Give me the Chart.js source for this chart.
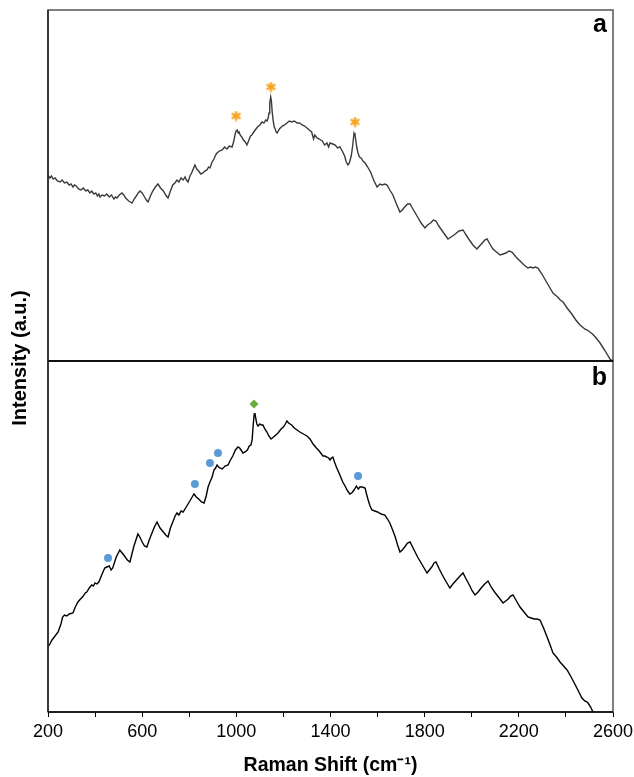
<!DOCTYPE html>
<html>
<head>
<meta charset="utf-8">
<script src="https://cdn.jsdelivr.net/npm/chart.js@4.4.1/dist/chart.umd.min.js"></script>
<style>
  html, body { margin: 0; padding: 0; background: #fff; }
  #wrap { position: relative; width: 634px; height: 777px; }
  canvas { display: block; }
</style>
</head>
<body>
<div id="wrap"><canvas id="c" width="634" height="777"></canvas></div>
<script>
// Panel a spectrum (Raman shift, cm-1) and intensity (a.u.)
const shiftA = [200,208,215,222,230,240,251,260,270,280,290,298,306,313,320,330,340,350,360,369,378,386,395,403,410,416,421,430,440,450,460,470,480,487,493,503,514,522,530,543,557,566,575,583,591,600,610,618,625,635,645,656,667,678,690,700,710,720,730,739,748,756,765,774,782,788,795,803,810,817,824,832,840,849,858,866,875,882,888,897,905,912,918,928,940,950,960,970,982,987,991,995,999,1004,1008,1012,1016,1023,1030,1038,1045,1052,1060,1066,1071,1080,1090,1100,1109,1117,1125,1130,1135,1139,1142,1146,1149,1152,1156,1161,1165,1169,1173,1183,1195,1205,1215,1225,1235,1246,1258,1268,1280,1290,1300,1310,1320,1328,1333,1343,1352,1365,1375,1385,1392,1398,1410,1420,1430,1440,1450,1460,1467,1474,1480,1488,1494,1500,1504,1508,1512,1517,1523,1530,1538,1547,1558,1570,1585,1598,1610,1620,1630,1640,1652,1665,1680,1695,1705,1715,1727,1738,1750,1770,1785,1801,1812,1825,1837,1848,1860,1875,1887,1899,1912,1930,1946,1963,1976,1990,2005,2022,2033,2045,2055,2065,2077,2090,2105,2120,2133,2145,2158,2171,2188,2205,2222,2239,2250,2260,2270,2281,2298,2315,2330,2345,2355,2365,2376,2388,2405,2425,2442,2460,2470,2480,2490,2502,2513,2525,2535,2545,2556,2567,2577,2587,2600];
const intensityA = [186,183,185,182,183,180,179,181,178,179,176,177,174,176,175,172,171,173,170,171,168,170,167,168,165,167,164,166,165,167,164,166,162,164,163,166,168,166,163,160,158,162,165,168,170,168,164,161,159,165,170,174,177,173,170,166,163,170,176,178,181,179,183,181,184,181,179,185,188,192,196,192,190,187,188,190,191,194,193,199,202,206,208,210,211,214,212,215,214,218,222,227,230,231,228,229,226,224,221,219,216,220,225,226,228,231,234,236,239,238,241,240,243,248,258,264,260,250,241,234,232,229,228,232,235,236,238,240,239,240,238,238,236,235,233,231,229,222,226,223,222,220,216,218,214,218,217,216,213,214,210,205,199,196,198,205,215,228,226,220,213,208,204,203,200,198,194,189,180,174,177,176,177,176,171,166,157,149,151,154,157,157,152,144,138,133,136,138,141,140,135,130,126,122,124,127,130,131,126,121,116,112,115,118,121,122,117,112,109,106,107,108,110,109,104,100,96,93,94,93,94,93,87,80,74,68,66,64,61,59,53,47,41,36,34,32,31,29,27,24,21,18,14,10,6,2,0];

// Panel b spectrum
const shiftB = [200,208,217,230,243,255,262,270,280,290,306,316,327,338,350,358,365,375,386,393,400,408,416,428,441,450,460,468,475,490,505,515,525,537,548,565,582,590,600,610,620,630,640,652,663,676,690,700,710,720,730,740,748,756,765,774,787,800,810,820,830,840,852,863,872,880,888,897,905,912,918,925,930,940,952,965,975,985,996,1007,1014,1020,1028,1037,1047,1055,1062,1067,1072,1076,1079,1083,1087,1092,1100,1106,1113,1121,1130,1138,1147,1158,1168,1177,1190,1200,1208,1215,1222,1235,1246,1258,1270,1285,1300,1313,1326,1340,1352,1368,1376,1385,1392,1398,1404,1410,1417,1425,1438,1452,1462,1470,1476,1482,1490,1500,1510,1518,1525,1535,1547,1553,1560,1568,1576,1588,1600,1615,1631,1642,1652,1664,1675,1685,1695,1705,1715,1727,1738,1755,1770,1790,1810,1820,1830,1840,1848,1862,1875,1892,1907,1920,1935,1950,1963,1976,1990,2002,2014,2027,2040,2055,2069,2085,2100,2117,2133,2144,2155,2165,2175,2190,2205,2222,2239,2252,2265,2278,2290,2305,2320,2333,2345,2360,2375,2390,2405,2422,2440,2455,2468,2480,2490,2494,2505,2515];
const intensityB = [65,68,72,76,80,88,95,97,96,98,99,105,110,113,116,119,120,124,127,126,129,128,130,137,144,145,146,142,144,155,162,159,156,152,150,166,178,175,170,166,165,172,178,185,190,184,180,177,175,184,190,196,199,197,201,200,205,210,214,218,215,213,210,209,216,225,230,235,242,244,247,245,244,243,246,247,252,256,262,265,264,262,259,260,262,266,267,272,288,298,299,293,288,286,288,287,287,283,280,276,273,275,277,279,283,285,288,291,289,287,284,282,280,278,276,273,268,264,261,256,256,255,254,252,254,255,250,245,238,230,226,222,220,218,219,222,226,223,225,225,224,218,212,206,202,201,200,198,197,193,189,182,175,167,160,162,165,169,170,162,155,147,139,142,145,149,150,143,137,130,124,128,132,136,139,133,127,121,117,120,124,128,131,124,119,114,109,111,113,116,117,111,105,100,95,94,93,93,92,84,75,67,59,55,50,46,42,35,27,20,14,11,10,9,5,0];

// Peak markers
const starShift = [999, 1147, 1504];
const starIntensity = [245, 274, 239];
const dotShift = [455, 824, 888, 922, 1517];
const dotIntensity = [154, 228, 249, 259, 236];
const diamondShift = [1075];
const diamondIntensity = [308];

// Axis
const xTickLabels = [200, 600, 1000, 1400, 1800, 2200, 2600];
const xMin = 200, xMax = 2600, yMax = 351;

const pts = (xs, ys) => xs.map((x, i) => ({x: x, y: ys[i]}));

// asterisk marker glyph
const asterisk = document.createElement('canvas');
asterisk.width = 11; asterisk.height = 11;
(function () {
  const g = asterisk.getContext('2d');
  g.strokeStyle = '#f7a21b';
  g.lineWidth = 2.2;
  g.lineCap = 'butt';
  g.translate(5.5, 5.5);
  for (let k = 0; k < 3; k++) {
    g.beginPath();
    g.moveTo(0, -5); g.lineTo(0, 5);
    g.stroke();
    g.rotate(Math.PI / 3);
  }
})();

const framePlugin = {
  id: 'frames',
  afterDraw(chart) {
    const {ctx, chartArea} = chart;
    const ya = chart.scales.ya, yb = chart.scales.yb;
    const L = chartArea.left, R = chartArea.right;
    ctx.save();
    ctx.strokeStyle = '#555';
    ctx.lineWidth = 1.5;
    ctx.strokeRect(L, ya.top, R - L, ya.bottom - ya.top);
    ctx.strokeRect(L, yb.top, R - L, yb.bottom - yb.top);
    ctx.strokeStyle = '#222';
    ctx.beginPath();
    ctx.moveTo(L, ya.top); ctx.lineTo(L, yb.bottom);
    ctx.stroke();
    ctx.strokeStyle = '#000';
    ctx.lineWidth = 1.5;
    ctx.beginPath();
    ctx.moveTo(L, yb.bottom); ctx.lineTo(R, yb.bottom);
    ctx.stroke();
    ctx.lineWidth = 2.2;
    ctx.strokeStyle = '#111';
    ctx.beginPath();
    ctx.moveTo(L, ya.bottom); ctx.lineTo(R, ya.bottom);
    ctx.stroke();
    ctx.fillStyle = '#000';
    ctx.font = 'bold 25px Arial, "Liberation Sans", sans-serif';
    ctx.textAlign = 'right';
    ctx.textBaseline = 'alphabetic';
    ctx.fillText('a', R - 6, ya.top + 22);
    ctx.fillText('b', R - 6, yb.top + 24);
    ctx.translate(20, (ya.top + yb.bottom) / 2 - 3);
    ctx.rotate(-Math.PI / 2);
    ctx.textAlign = 'center';
    ctx.textBaseline = 'middle';
    ctx.font = 'bold 20px Arial, "Liberation Sans", sans-serif';
    ctx.fillText('Intensity (a.u.)', 0, 0);
    ctx.restore();
  }
};

const yBase = {
  type: 'linear', position: 'left', stack: 'panels', stackWeight: 1,
  min: 0, max: yMax, display: true,
  ticks: {display: false},
  grid: {display: false, drawTicks: false, tickLength: 0},
  border: {display: false}
};

new Chart(document.getElementById('c'), {
  type: 'line',
  data: {
    datasets: [
      {data: pts(shiftA, intensityA), yAxisID: 'ya', borderColor: '#3a3a3a', borderWidth: 1.4, pointRadius: 0, tension: 0, fill: false},
      {data: pts(shiftB, intensityB), yAxisID: 'yb', borderColor: '#000', borderWidth: 1.4, pointRadius: 0, tension: 0, fill: false},
      {data: pts(starShift, starIntensity), yAxisID: 'ya', showLine: false, pointStyle: asterisk, pointRadius: 5.5},
      {data: pts(dotShift, dotIntensity), yAxisID: 'yb', showLine: false, pointStyle: 'circle', pointRadius: 4, borderWidth: 0, backgroundColor: '#5b9bd5', borderColor: '#5b9bd5'},
      {data: pts(diamondShift, diamondIntensity), yAxisID: 'yb', showLine: false, pointStyle: 'rectRot', pointRadius: 4.5, borderWidth: 0, backgroundColor: '#6aab3c', borderColor: '#6aab3c'}
    ]
  },
  options: {
    responsive: false,
    animation: false,
    events: [],
    layout: {padding: {left: 48, right: 21, top: 10, bottom: 0}},
    plugins: {legend: {display: false}, tooltip: {enabled: false}},
    scales: {
      x: {
        type: 'linear', min: xMin, max: xMax,
        ticks: {
          stepSize: 200, autoSkip: false, maxRotation: 0, padding: 4, color: '#000',
          font: {family: 'Arial, "Liberation Sans", sans-serif', size: 18},
          callback: v => xTickLabels.includes(v) ? String(v) : ''
        },
        grid: {display: true, drawOnChartArea: false, drawTicks: true, tickLength: 5, color: '#000', lineWidth: 1},
        border: {display: false},
        title: {
          display: true, text: 'Raman Shift (cm\u207B\u00B9)', color: '#000',
          font: {family: 'Arial, "Liberation Sans", sans-serif', size: 19.5, weight: 'bold'},
          padding: {top: 0, bottom: 0}
        },
        afterFit: s => { s.height = 65; s.paddingLeft = 0; s.paddingRight = 0; }
      },
      ya: Object.assign({}, yBase, {weight: 2}),
      yb: Object.assign({}, yBase, {weight: 1})
    }
  },
  plugins: [framePlugin]
});
</script>
</body>
</html>
